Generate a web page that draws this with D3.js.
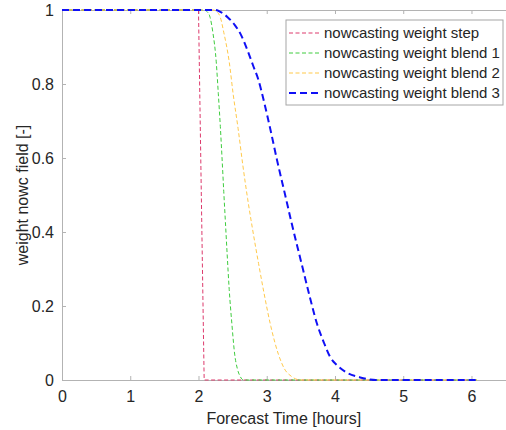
<!DOCTYPE html>
<html>
<head>
<meta charset="utf-8">
<script src="https://cdn.jsdelivr.net/npm/d3@7"></script>
<style>
  body { margin: 0; background: #fff; }
  text { font-family: "Liberation Sans", Arial, sans-serif; fill: #262626; }
</style>
</head>
<body>
<div id="chart-container"></div>
<script>
// Data (time in hours, weight 0..1)
const stepTime = [0, 2.0, 2.083, 6.083];
const stepValue = [1, 1, 0, 0];

const blend1Time = [0, 2.08, 2.13, 2.17, 2.21, 2.26, 2.29, 2.32, 2.345, 2.37, 2.395, 2.42, 2.45, 2.49, 2.53, 2.57, 2.61, 2.66, 6.083];
const blend1Value = [1, 1, 0.995, 0.98, 0.94, 0.86, 0.775, 0.685, 0.60, 0.51, 0.425, 0.34, 0.245, 0.15, 0.07, 0.03, 0.01, 0, 0];

const blend2Time = [0, 2.21, 2.27, 2.32, 2.37, 2.45, 2.51, 2.58, 2.65, 2.72, 2.79, 2.88, 2.96, 3.06, 3.17, 3.26, 3.36, 3.5, 6.083];
const blend2Value = [1, 1, 0.995, 0.98, 0.94, 0.86, 0.77, 0.68, 0.58, 0.49, 0.41, 0.315, 0.235, 0.145, 0.07, 0.03, 0.01, 0, 0];

const blend3Time = [0, 2.24, 2.32, 2.43, 2.53, 2.63, 2.72, 2.80, 2.88, 2.95, 3.05, 3.15, 3.27, 3.37, 3.49, 3.61, 3.74, 3.84, 3.93, 4.03, 4.17, 4.37, 4.6, 6.083];
const blend3Value = [1, 1, 0.995, 0.98, 0.96, 0.93, 0.89, 0.85, 0.81, 0.76, 0.68, 0.595, 0.50, 0.42, 0.33, 0.24, 0.15, 0.10, 0.062, 0.04, 0.02, 0.007, 0, 0];

const seriesNames = ["nowcasting weight step", "nowcasting weight blend 1", "nowcasting weight blend 2", "nowcasting weight blend 3"];
const xTicks = [0, 1, 2, 3, 4, 5, 6];
const yTicks = [0, 0.2, 0.4, 0.6, 0.8, 1];

// Dimensions
const margin = { top: 10, left: 62 };
const width = 443.6;
const height = 370;

const x = d3.scaleLinear().domain([0, 6.5]).range([0, width]);
const y = d3.scaleLinear().domain([0, 1]).range([height, 0]);

const svg = d3.select("#chart-container")
    .append("svg")
    .attr("width", 506)
    .attr("height", 430)
    .append("g")
    .attr("transform", `translate(${margin.left},${margin.top})`);

const axisColor = "#b3b3b3";

// Axes
const xAxis = svg.append("g")
    .attr("transform", `translate(0,${height})`)
    .call(d3.axisBottom(x).tickValues(xTicks).tickSizeInner(-4).tickSizeOuter(0).tickFormat(d3.format("d")));
const xTop = svg.append("g")
    .call(d3.axisTop(x).tickValues(xTicks).tickSizeInner(-4).tickSizeOuter(0).tickFormat(""));
const yAxis = svg.append("g")
    .call(d3.axisLeft(y).tickValues(yTicks).tickSizeInner(-4).tickSizeOuter(0).tickPadding(8).tickFormat(d3.format("~g")));

[xAxis, xTop, yAxis].forEach(a => {
    a.select(".domain").attr("stroke", axisColor);
    a.selectAll(".tick line").attr("stroke", axisColor);
    a.selectAll(".tick text").style("font-size", "16px").attr("fill", "#262626")
        .style("font-family", "'Liberation Sans', Arial, sans-serif");
});
xAxis.selectAll(".tick text").attr("dy", "0.71em").attr("y", 11);

// Series
const series = [
    { name: seriesNames[0], t: stepTime, v: stepValue, color: "#dd3a6c", w: 1, dash: "4,2.5", curve: d3.curveLinear },
    { name: seriesNames[1], t: blend1Time, v: blend1Value, color: "#3ecc3e", w: 1, dash: "4,2.5", curve: d3.curveMonotoneX },
    { name: seriesNames[2], t: blend2Time, v: blend2Value, color: "#ffc94a", w: 1, dash: "4,2.5", curve: d3.curveMonotoneX },
    { name: seriesNames[3], t: blend3Time, v: blend3Value, color: "#1010f5", w: 2, dash: "7,4", curve: d3.curveMonotoneX }
];

series.forEach(s => {
    const pts = s.t.map((t, i) => [t, s.v[i]]);
    const line = d3.line().x(d => x(d[0])).y(d => y(d[1])).curve(s.curve);
    svg.append("path")
        .datum(pts)
        .attr("fill", "none")
        .attr("stroke", s.color)
        .attr("stroke-width", s.w)
        .attr("stroke-dasharray", s.dash)
        .attr("d", line);
});

// Axis labels
svg.append("text")
    .attr("x", width / 2)
    .attr("y", 414)
    .attr("text-anchor", "middle")
    .style("font-size", "16px")
    .text("Forecast Time [hours]");

svg.append("text")
    .attr("transform", `translate(${-margin.left + 28},${height / 2}) rotate(-90)`)
    .attr("text-anchor", "middle")
    .style("font-size", "16px")
    .text("weight nowc field [-]");

// Legend
const legend = svg.append("g").attr("transform", `translate(${286 - margin.left},${20 - margin.top})`);
legend.append("rect")
    .attr("width", 217)
    .attr("height", 85)
    .attr("fill", "#fff")
    .attr("stroke", "#a6a6a6");

series.forEach((s, i) => {
    const gy = 13 + i * 20;
    legend.append("line")
        .attr("x1", 3).attr("x2", 35)
        .attr("y1", gy).attr("y2", gy)
        .attr("stroke", s.color)
        .attr("stroke-width", s.w)
        .attr("stroke-dasharray", s.dash);
    legend.append("text")
        .attr("x", 38)
        .attr("y", gy)
        .attr("dy", "0.35em")
        .style("font-size", "15px")
        .text(s.name);
});
</script>
</body>
</html>
